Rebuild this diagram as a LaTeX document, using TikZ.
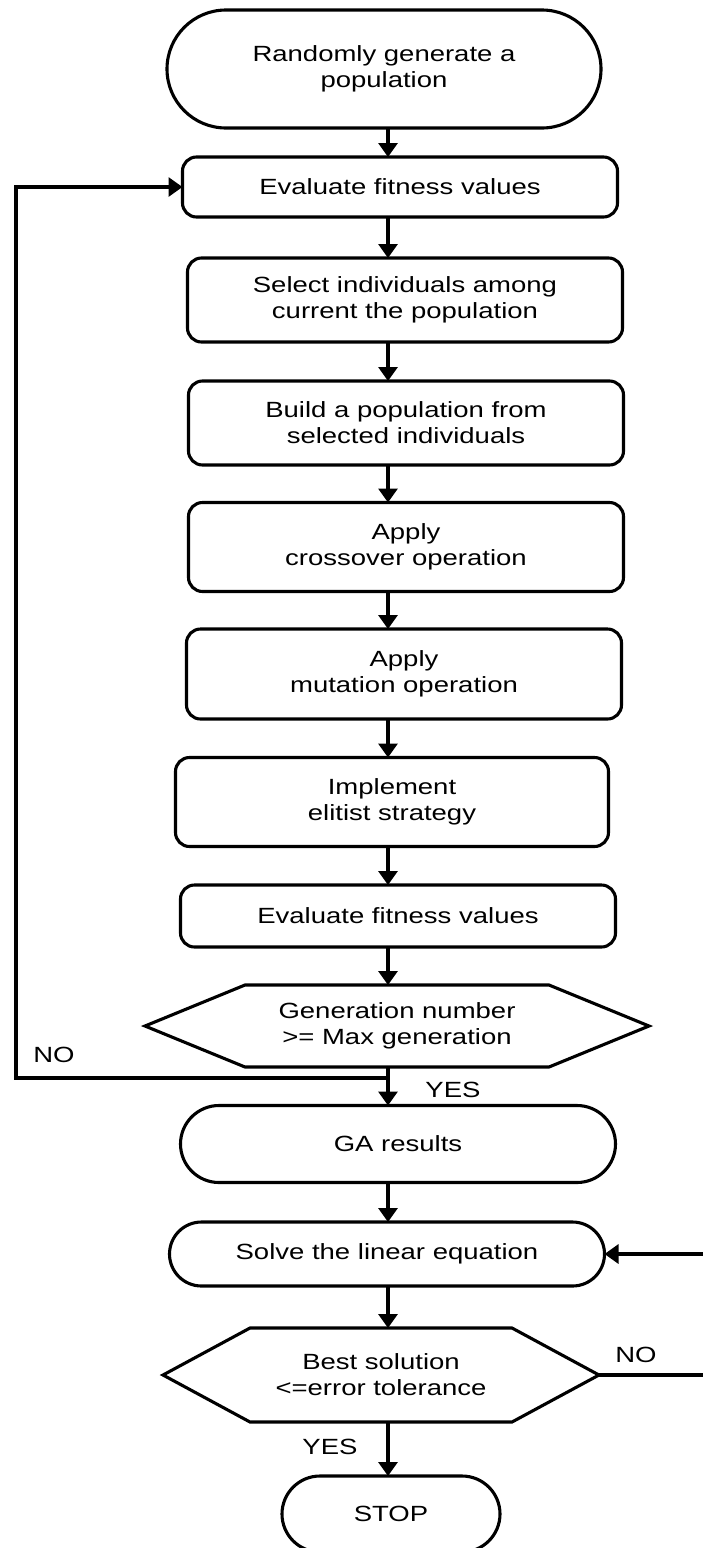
\documentclass[tikz,border=0pt]{standalone}
\usepackage{fontspec}
\setmainfont{Liberation Sans}[FakeStretch=1.25]
\usetikzlibrary{shapes.misc,arrows.meta}

\begin{document}
\begin{tikzpicture}[x=1pt,y=-1pt,line width=3.1pt,
        font=\fontsize{22pt}{26pt}\selectfont,
        box/.style={draw,rectangle,rounded corners=14pt,align=center,minimum width=435pt,inner sep=0pt,outer sep=0pt},
        term/.style={draw,rounded rectangle,align=center,minimum width=435pt,inner sep=0pt,outer sep=0pt},
        hexbox/.style={align=center,inner sep=0pt,outer sep=0pt},
        arrow/.style={-{Triangle[length=14pt,width=19pt]}},
        lbl/.style={inner sep=0pt}]
    \useasboundingbox (0,0) rectangle (703,1548);
    \clip (0,0) rectangle (703,1548);
    \coordinate (spine) at (388,0);
    \coordinate (noleft) at (16,1078);
    \coordinate (noright) at (706,1375);

    \node[term,minimum width=434pt,minimum height=118pt] (start) at (384,69) {Randomly generate a\\population};
    \node[box,minimum height=60pt] (eval1) at (400,187) {Evaluate fitness values};
    \node[box,minimum height=84pt] (select) at (405,300) {Select individuals among\\current the population};
    \node[box,minimum height=84pt] (build) at (406,423) {Build a population from\\selected individuals};
    \node[box,minimum height=89pt] (cross) at (406,547) {Apply\\crossover operation};
    \node[box,minimum height=90pt] (mutate) at (404,674) {Apply\\mutation operation};
    \node[box,minimum width=433pt,minimum height=89pt] (elitist) at (392,802) {Implement\\elitist strategy};
    \node[box,minimum height=62pt] (eval2) at (398,916) {Evaluate fitness values};
    \node[hexbox,minimum width=504pt,minimum height=82pt] (gen) at (397,1026) {Generation number\\>= Max generation};
    \node[term,minimum height=77pt] (ga) at (398,1144) {GA results};
    \node[term,minimum height=64pt] (solve) at (387,1254) {Solve the linear equation};
    \node[hexbox,minimum width=436pt,minimum height=94pt] (best) at (381,1375) {Best solution\\<=error tolerance};
    \node[term,minimum width=218pt,minimum height=76pt] (stop) at (391,1514) {STOP};

    \draw (gen.west) -- ([xshift=100pt]gen.north west) -- ([xshift=-100pt]gen.north east) -- (gen.east)
        -- ([xshift=-100pt]gen.south east) -- ([xshift=100pt]gen.south west) -- cycle;
    \draw (best.west) -- ([xshift=87pt]best.north west) -- ([xshift=-87pt]best.north east) -- (best.east)
        -- ([xshift=-87pt]best.south east) -- ([xshift=87pt]best.south west) -- cycle;

    \draw[arrow] (start.south -| spine) -- (eval1.north -| spine);
    \draw[arrow] (eval1.south -| spine) -- (select.north -| spine);
    \draw[arrow] (select.south -| spine) -- (build.north -| spine);
    \draw[arrow] (build.south -| spine) -- (cross.north -| spine);
    \draw[arrow] (cross.south -| spine) -- (mutate.north -| spine);
    \draw[arrow] (mutate.south -| spine) -- (elitist.north -| spine);
    \draw[arrow] (elitist.south -| spine) -- (eval2.north -| spine);
    \draw[arrow] (eval2.south -| spine) -- (gen.north -| spine);
    \draw[arrow] (gen.south -| spine) -- (ga.north -| spine);
    \draw[arrow] (ga.south -| spine) -- (solve.north -| spine);
    \draw[arrow] (solve.south -| spine) -- (best.north -| spine);
    \draw[arrow] (best.south -| spine) -- (stop.north -| spine);

    \draw[arrow] (noleft -| spine) -- (noleft) |- (eval1.west);
    \draw[arrow] (best.east) -- (noright) |- (solve.east);

    \node[lbl] (no1) at (54,1055) {NO};
    \node[lbl] (yes1) at (453,1090) {YES};
    \node[lbl] (no2) at (636,1355) {NO};
    \node[lbl] (yes2) at (330,1447) {YES};
\end{tikzpicture}
\end{document}
